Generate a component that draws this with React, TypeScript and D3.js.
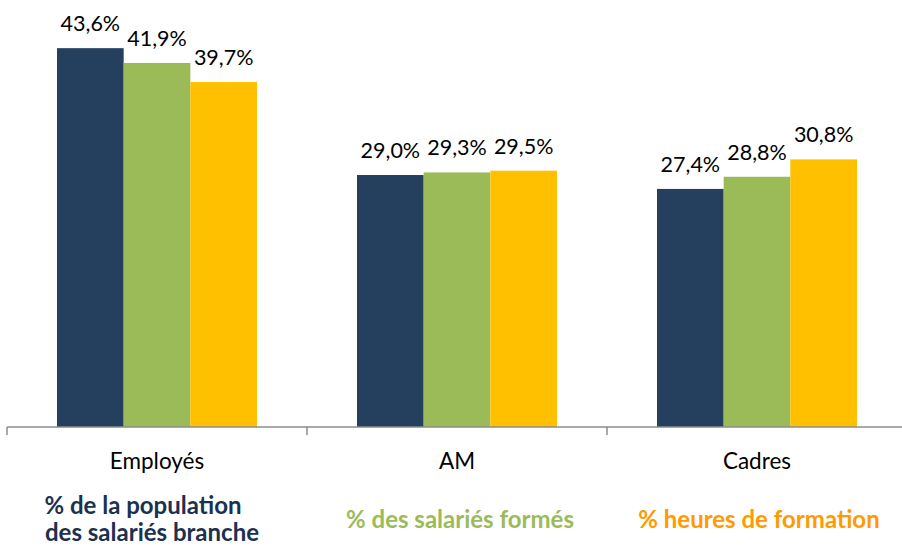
import React from "react";
import * as d3 from "d3";

const categories = ["Employés", "AM", "Cadres"];
const seriesNames = ["% de la population des salariés branche", "% des salariés formés", "% heures de formation"];
const population = [43.6, 29.0, 27.4];
const formes = [41.9, 29.3, 28.8];
const heures = [39.7, 29.5, 30.8];
const barColors = ["#253f5f", "#9bbb59", "#ffc000"];
const textColors = ["#1b3150", "#9bbb59", "#ff9a00"];

const W = 902;
const H = 546;
const baseY = 427;

export default function App() {
  const series = [population, formes, heures];
  const x = d3.scaleBand<string>().domain(categories).range([7, 907]).paddingInner(0).paddingOuter(0);
  const inner = d3.scaleBand<number>().domain([0, 1, 2]).range([0, x.bandwidth()]).paddingInner(0).paddingOuter(0.75);
  const y = d3.scaleLinear().domain([0, 45]).range([baseY, 36]);
  const fmt = (v: number) => v.toFixed(1).replace(".", ",") + "%";
  const font = "Lato, 'Open Sans', sans-serif";
  const tickXs = [0, 1, 2, 3].map((i) => 7 + i * x.bandwidth());

  return (
    <svg width={W} height={H} style={{ position: "absolute", left: 0, top: 0 }}>
      <rect width={W} height={H} fill="#fff" />
      {categories.map((c, ci) =>
        series.map((s, si) => {
          const bx = (x(c) as number) + (inner(si) as number);
          const by = y(s[ci]);
          return (
            <g key={c + si}>
              <rect x={bx} y={by} width={inner.bandwidth()} height={baseY - by} fill={barColors[si]} />
              <text x={bx + inner.bandwidth() / 2} y={by - 17} textAnchor="middle" fontFamily={font} fontSize={21.5} fill="#000">
                {fmt(s[ci])}
              </text>
            </g>
          );
        })
      )}
      <line x1={7} x2={W} y1={baseY} y2={baseY} stroke="#8c8c8c" strokeWidth={1.5} />
      {tickXs.map((tx, i) => (
        <line key={i} x1={tx} x2={tx} y1={baseY} y2={baseY + 8} stroke="#8c8c8c" strokeWidth={1.5} />
      ))}
      {categories.map((c) => (
        <text key={c} x={(x(c) as number) + x.bandwidth() / 2} y={469} textAnchor="middle" fontFamily={font} fontSize={22.5} fill="#000">
          {c}
        </text>
      ))}
      <text x={143} y={514} textAnchor="middle" fontFamily={font} fontWeight="bold" fontSize={24} fill={textColors[0]}>
        % de la population
      </text>
      <text x={152} y={541} textAnchor="middle" fontFamily={font} fontWeight="bold" fontSize={24} fill={textColors[0]}>
        des salariés branche
      </text>
      <text x={460} y={528} textAnchor="middle" fontFamily={font} fontWeight="bold" fontSize={24} fill={textColors[1]}>
        {seriesNames[1]}
      </text>
      <text x={759} y={528} textAnchor="middle" fontFamily={font} fontWeight="bold" fontSize={24} fill={textColors[2]}>
        {seriesNames[2]}
      </text>
    </svg>
  );
}
